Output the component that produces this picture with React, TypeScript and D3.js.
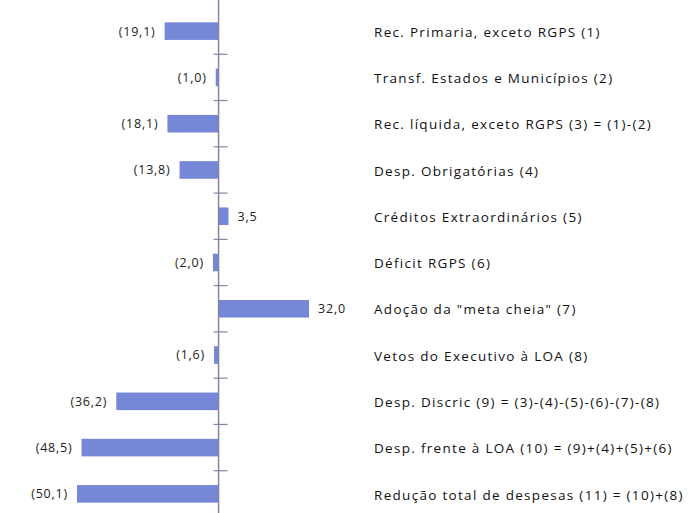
import React from "react";
import * as d3 from "d3";

const categories: string[] = [
  "Rec. Primaria, exceto RGPS (1)",
  "Transf. Estados e Municípios (2)",
  "Rec. líquida, exceto RGPS (3) = (1)-(2)",
  "Desp. Obrigatórias (4)",
  "Créditos Extraordinários (5)",
  "Déficit RGPS (6)",
  "Adoção da \"meta cheia\" (7)",
  "Vetos do Executivo à LOA (8)",
  "Desp. Discric  (9) = (3)-(4)-(5)-(6)-(7)-(8)",
  "Desp. frente à LOA (10) = (9)+(4)+(5)+(6)",
  "Redução total de despesas (11) = (10)+(8)",
];

const values: number[] = [-19.1, -1.0, -18.1, -13.8, 3.5, -2.0, 32.0, -1.6, -36.2, -48.5, -50.1];

const W = 697;
const H = 513;

const fmt = (v: number) => {
  const s = Math.abs(v).toFixed(1).replace(".", ",");
  return v < 0 ? `(${s})` : s;
};

export default function App() {
  const x = d3.scaleLinear().domain([-50.1, 32]).range([77, 309]);
  const y = d3
    .scaleBand<string>()
    .domain(categories)
    .range([8, 517])
    .paddingInner(0.62)
    .paddingOuter(0.31);
  const step = y.step();
  const x0 = x(0);
  const tickYs = categories.slice(1).map((c) => (y(c) as number) - (step - y.bandwidth()) / 2);
  const font = "Open Sans, sans-serif";

  return (
    <svg
      width={W}
      height={H}
      style={{ position: "absolute", left: 0, top: 0, background: "#fff" }}
    >
      {categories.map((c, i) => {
        const v = values[i];
        const yy = y(c) as number;
        const bx = Math.min(x(v), x0);
        const bw = Math.abs(x(v) - x0);
        return (
          <g key={c}>
            <rect x={bx} y={yy} width={bw} height={y.bandwidth()} fill="#7587d6" />
            <text
              x={v < 0 ? x(v) - 9 : x(v) + 9}
              y={yy + y.bandwidth() / 2}
              dy="0.35em"
              textAnchor={v < 0 ? "end" : "start"}
              fontFamily={font}
              fontSize={12.5}
              letterSpacing={0.8}
              fill="#222"
            >
              {fmt(v)}
            </text>
            <text
              x={374}
              y={yy + y.bandwidth() / 2 + 1}
              dy="0.35em"
              fontFamily={font}
              fontSize={13.5}
              letterSpacing={1.3}
              fill="#111"
            >
              {c}
            </text>
          </g>
        );
      })}
      <line x1={x0} x2={x0} y1={0} y2={H} stroke="#8585a0" strokeWidth={1.5} />
      {tickYs.map((t, i) => (
        <line key={i} x1={x0 - 5} x2={x0 + 9} y1={t} y2={t} stroke="#8585a0" strokeWidth={1.2} />
      ))}
    </svg>
  );
}
